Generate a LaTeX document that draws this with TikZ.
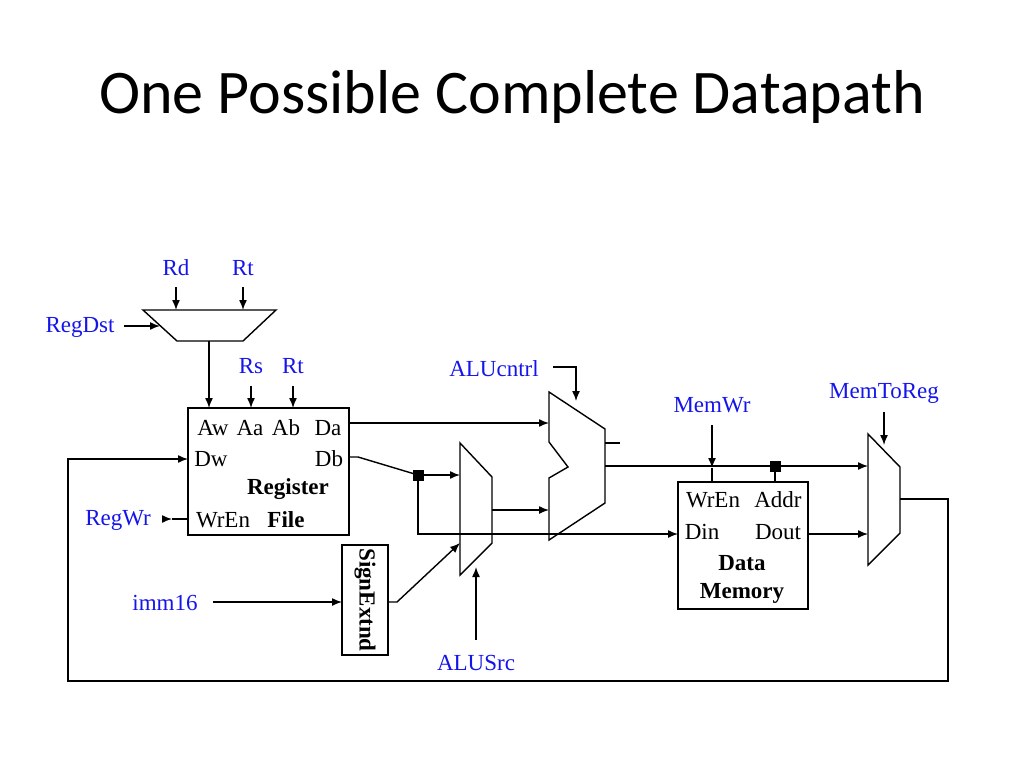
\documentclass[tikz,border=0pt]{standalone}
\usepackage{fontspec}
\setmainfont{Liberation Serif}
\newfontfamily\titlefont{Carlito}
\usetikzlibrary{arrows.meta}
\definecolor{lblue}{RGB}{20,20,235}
\begin{document}
\begin{tikzpicture}[x=1pt,y=-1pt,line width=1.4pt,
  arr/.style={-{Latex[length=10pt,width=8pt]}},
  lbl/.style={text=lblue,font=\fontsize{23}{25}\selectfont,inner sep=0pt},
  txt/.style={font=\fontsize{23}{25}\selectfont,inner sep=0pt},
  btxt/.style={font=\bfseries\fontsize{23}{25}\selectfont,inner sep=0pt},
  jn/.style={fill=black,minimum size=11pt,inner sep=0pt}]
\useasboundingbox (0,0) rectangle (1024,768);
\node[font=\titlefont\fontsize{62}{68}\selectfont] (title) at (512,97) {One Possible Complete Datapath};
% RegDst mux
\draw (143,310) -- (276,310) -- (243,341) -- (177,341) -- cycle;
\node[lbl] (rd) at (176,268) {Rd};
\node[lbl] (rt1) at (243,268) {Rt};
\coordinate (rdin) at (176,310); \coordinate (rtin) at (243,310);
\draw[arr] (176,287) -- (rdin);
\draw[arr] (243,287) -- (rtin);
\node[lbl] (regdst) at (80,327) {RegDst};
\coordinate (rdsel) at (160,326);
\draw[arr] (124,326) -- (rdsel);
% Register file
\node[draw,minimum width=161pt,minimum height=127pt,inner sep=0pt] (rf) at (268.5,471.5) {};
\draw[arr] (209,341) -- (209,408);
\node[lbl] (rs) at (251,366) {Rs};
\node[lbl] (rt2) at (293,366) {Rt};
\draw[arr] (251,386) -- (251,408);
\draw[arr] (293,386) -- (293,408);
\node[txt] at (213,428) {Aw};
\node[txt] at (250,428) {Aa};
\node[txt] at (286,428) {Ab};
\node[txt] at (328,428) {Da};
\node[txt] at (211,459) {Dw};
\node[txt] at (329,459) {Db};
\node[btxt] at (288,489) {Register};
\node[txt] at (223,520) {WrEn};
\node[btxt] at (286,520) {File};
\node[lbl] (regwr) at (118,520) {RegWr};
\draw[arr] (162,519) -- (172,519);
\draw (172,519) -- (188,519);
% ALU
\draw (549,392) -- (605,429) -- (605,503) -- (549,540) -- (549,478) -- (568,467) -- (549,442) -- cycle;
\draw (605,443) -- (620,443);
\node[lbl] (aluc) at (494,369) {ALUcntrl};
\draw[arr] (553,367) -- (576,367) -- (576,401);
\draw[arr] (349,423) -- (549,423);
% ALUSrc mux
\draw (460,443) -- (492,477) -- (492,543) -- (460,575) -- cycle;
\node[jn] (j1) at (418,475) {};
\draw (349,457) -- (358,457) -- (j1.center);
\draw[arr] (j1.center) -- (460,475);
\draw[arr] (j1.center) -- (418,534) -- (678,534);
\draw[arr] (492,510) -- (549,510);
\node[lbl] (alusrc) at (476,663) {ALUSrc};
\draw[arr] (476,640) -- (476,567);
% SignExtnd
\node[draw,minimum width=46pt,minimum height=110pt,inner sep=0pt] (se) at (365,600) {};
\node[btxt,rotate=-90] at (365,600) {SignExtnd};
\node[lbl] (imm) at (165,603) {imm16};
\draw[arr] (213,602) -- (342,602);
\draw[arr] (388,602) -- (397,602) -- (460,543);
% Data memory
\node[draw,minimum width=130pt,minimum height=127pt,inner sep=0pt] (dm) at (743,545.5) {};
\node[txt] at (713,500) {WrEn};
\node[txt] at (778,500) {Addr};
\node[txt] at (702,532) {Din};
\node[txt] at (778,532) {Dout};
\node[btxt] at (742,563) {Data};
\node[btxt] at (742,593) {Memory};
\draw[arr] (605,466) -- (868,466);
\node[jn] (j2) at (775,466) {};
\draw (j2.center) -- (775,482);
\node[lbl] (memwr) at (712,405) {MemWr};
\draw[arr] (712,425) -- (712,468);
\draw (712,468) -- (712,482);
% MemToReg mux
\draw (868,434) -- (900,467) -- (900,533) -- (868,565) -- cycle;
\node[lbl] (m2r) at (884,393) {MemToReg};
\draw[arr] (884,412) -- (884,445);
\draw[arr] (808,534) -- (868,534);
\draw[arr] (900,499) -- (948,499) -- (948,681) -- (68,681) -- (68,459) -- (188,459);
\end{tikzpicture}
\end{document}
